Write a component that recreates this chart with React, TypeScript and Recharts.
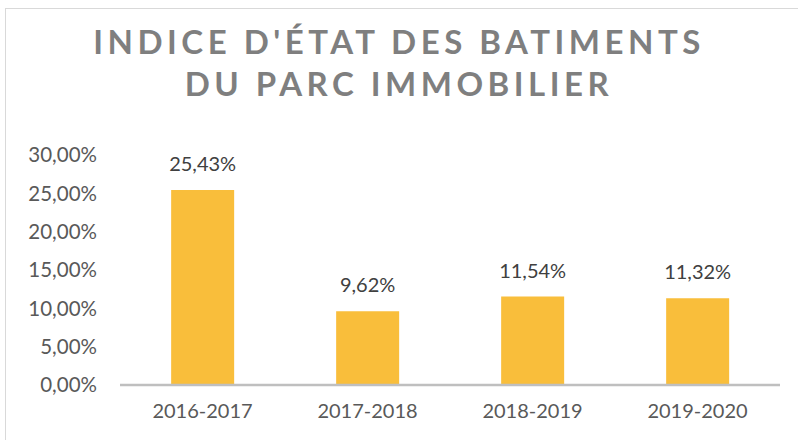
// App.tsx
import React from "react";
import { BarChart, Bar, XAxis, YAxis, LabelList } from "recharts";

// Building condition index per school year
const years = ["2016-2017", "2017-2018", "2018-2019", "2019-2020"];
const indexValues = [25.43, 9.62, 11.54, 11.32];
const yTicks = [0, 5, 10, 15, 20, 25, 30];

const data = years.map((year, i) => ({ year, value: indexValues[i] }));

const fr = (v: number) => v.toFixed(2).replace(".", ",") + "%";

const font = "Lato, 'Open Sans', sans-serif";

const App = () => {
  return (
    <div
      style={{
        position: "absolute",
        left: 0,
        top: 0,
        width: 798,
        height: 440,
        background: "#fff",
        overflow: "hidden",
        fontFamily: font,
      }}
    >
      {/* chart frame, only top and left edges are in view */}
      <div
        style={{
          position: "absolute",
          left: 5,
          top: 8,
          width: 820,
          height: 460,
          border: "1.5px solid #d9d9d9",
        }}
      />

      <div
        style={{
          position: "absolute",
          left: 0,
          width: 798,
          top: 20,
          textAlign: "center",
          color: "#7f7f7f",
          fontWeight: 700,
          fontSize: 33,
          letterSpacing: 4.5,
          lineHeight: "42px",
        }}
      >
        <div>INDICE D'ÉTAT DES BATIMENTS</div>
        <div>DU PARC IMMOBILIER</div>
      </div>

      <div style={{ position: "absolute", left: 0, top: 0 }}>
        <BarChart
          width={798}
          height={440}
          data={data}
          margin={{ top: 155, right: 18, bottom: 25, left: 0 }}
          barCategoryGap="31%"
        >
          <XAxis
            dataKey="year"
            height={30}
            tickLine={false}
            tickSize={0}
            tickMargin={19}
            axisLine={{ stroke: "#bfbfbf", strokeWidth: 2.5 }}
            tick={{ fill: "#595959", fontSize: 20, fontFamily: font }}
          />
          <YAxis
            width={120}
            domain={[0, 30]}
            ticks={yTicks}
            axisLine={false}
            tickLine={false}
            tickSize={0}
            tickMargin={23}
            tickFormatter={fr}
            tick={{ fill: "#595959", fontSize: 20.5, fontFamily: font }}
          />
          <Bar dataKey="value" fill="#f9be3b" isAnimationActive={false}>
            <LabelList
              dataKey="value"
              position="top"
              offset={19}
              formatter={(v: any) => fr(Number(v))}
              style={{ fill: "#404040", fontSize: 20, fontFamily: font }}
            />
          </Bar>
        </BarChart>
      </div>
    </div>
  );
};

export default App;
